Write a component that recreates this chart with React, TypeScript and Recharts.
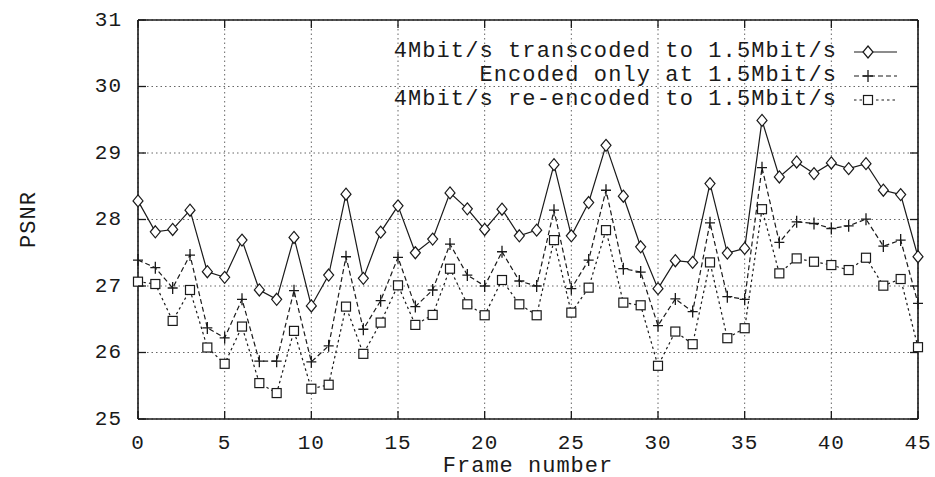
import { LineChart, Line, XAxis, YAxis, CartesianGrid, Legend } from "recharts"

const frames = Array.from({ length: 46 }, (_, i) => i)

const transcoded = [
  28.28, 27.815, 27.85, 28.14, 27.215, 27.13, 27.69, 26.94, 26.8, 27.73, 26.7, 27.165, 28.38, 27.115, 27.81, 28.205,
  27.5, 27.705, 28.4, 28.16, 27.85, 28.155, 27.755, 27.84, 28.825, 27.755, 28.255, 29.115, 28.35, 27.59, 26.96,
  27.38, 27.355, 28.54, 27.495, 27.565, 29.49, 28.64, 28.865, 28.69, 28.85, 28.765, 28.84, 28.44, 28.375, 27.44,
]
const encodedOnly = [
  27.39, 27.275, 26.97, 27.465, 26.37, 26.22, 26.8, 25.87, 25.87, 26.93, 25.86, 26.1, 27.44, 26.35, 26.78, 27.43,
  26.69, 26.94, 27.63, 27.165, 27.0, 27.515, 27.075, 27.0, 28.14, 26.96, 27.39, 28.44, 27.26, 27.21, 26.405,
  26.805, 26.615, 27.95, 26.84, 26.8, 28.78, 27.655, 27.965, 27.94, 27.865, 27.905, 28.005, 27.6, 27.69, 26.74,
]
const reencoded = [
  27.065, 27.03, 26.475, 26.94, 26.075, 25.83, 26.39, 25.54, 25.39, 26.325, 25.455, 25.515, 26.69, 25.98, 26.45, 27.01,
  26.415, 26.565, 27.26, 26.725, 26.56, 27.09, 26.725, 26.56, 27.69, 26.6, 26.975, 27.84, 26.75, 26.71, 25.8,
  26.315, 26.125, 27.355, 26.215, 26.365, 28.155, 27.19, 27.415, 27.365, 27.315, 27.24, 27.425, 27.005, 27.105, 26.08,
]

const xTicks = [0, 5, 10, 15, 20, 25, 30, 35, 40, 45]
const yTicks = [25, 26, 27, 28, 29, 30, 31]

const data = frames.map((f, i) => ({
  frame: f,
  transcoded: transcoded[i],
  encoded: encodedOnly[i],
  reencoded: reencoded[i],
}))

const FONT = "'Liberation Mono', 'Courier New', monospace"
const INK = "#1a1a1a"

type Shape = "diamond" | "plus" | "square"

function Marker({ cx, cy, shape }: { cx: number; cy: number; shape: Shape }) {
  if (shape === "diamond")
    return <path d={`M${cx},${cy - 6}L${cx + 5},${cy}L${cx},${cy + 6}L${cx - 5},${cy}Z`} fill="#fff" stroke={INK} strokeWidth={1.2} />
  if (shape === "plus")
    return <path d={`M${cx - 5},${cy}H${cx + 5}M${cx},${cy - 6}V${cy + 6}`} stroke={INK} strokeWidth={1.3} fill="none" />
  return <rect x={cx - 4.5} y={cy - 4.5} width={9} height={9} fill="#fff" stroke={INK} strokeWidth={1.2} />
}

const series = [
  { key: "transcoded", name: "4Mbit/s transcoded to 1.5Mbit/s", shape: "diamond" as Shape, dash: undefined },
  { key: "encoded", name: "Encoded only at 1.5Mbit/s", shape: "plus" as Shape, dash: "5 3" },
  { key: "reencoded", name: "4Mbit/s re-encoded to 1.5Mbit/s", shape: "square" as Shape, dash: "2.5 3" },
]

const makeDot = (shape: Shape) => (p: any) => <Marker key={`${shape}-${p.index}`} cx={p.cx} cy={p.cy} shape={shape} />

const LeftTick = (p: any) => (
  <g>
    <text x={p.x} y={p.y} textAnchor="end" dominantBaseline="central" fontFamily={FONT} fontSize={21} letterSpacing={1} fill={INK}>
      {p.payload.value}
    </text>
    <line x1={p.x + 16} x2={p.x + 24} y1={p.y} y2={p.y} stroke={INK} strokeWidth={1.3} />
  </g>
)
const BottomTick = (p: any) => (
  <g>
    <text x={p.x} y={p.y} textAnchor="middle" dominantBaseline="central" fontFamily={FONT} fontSize={21} letterSpacing={1} fill={INK}>
      {p.payload.value}
    </text>
    <line x1={p.x} x2={p.x} y1={p.y - 24} y2={p.y - 32} stroke={INK} strokeWidth={1.3} />
  </g>
)
const TopTick = (p: any) => <line x1={p.x} x2={p.x} y1={p.y} y2={p.y + 8} stroke={INK} strokeWidth={1.3} />
const RightTick = (p: any) => <line x1={p.x} x2={p.x - 8} y1={p.y} y2={p.y} stroke={INK} strokeWidth={1.3} />

function LegendBox() {
  return (
    <div style={{ fontFamily: FONT, fontSize: 22, letterSpacing: "1.1px", color: INK }}>
      {series.map((s) => (
        <div key={s.key} style={{ display: "flex", height: 24, lineHeight: "24px", alignItems: "center" }}>
          <div style={{ width: 457, textAlign: "right", whiteSpace: "pre" }}>{s.name}</div>
          <svg width={70} height={24}>
            <line x1={17} x2={60} y1={12} y2={12} stroke={INK} strokeWidth={1.2} strokeDasharray={s.dash} />
            <Marker cx={31} cy={12} shape={s.shape} />
          </svg>
        </div>
      ))}
    </div>
  )
}

export default function App() {
  return (
    <div style={{ position: "absolute", left: 0, top: 0, background: "#fff" }}>
      <LineChart width={935} height={477} data={data} margin={{ top: 0, right: 0, left: 0, bottom: 0 }}>
        <CartesianGrid stroke="#666" strokeDasharray="1.5 3" strokeWidth={1} horizontalValues={yTicks} verticalValues={xTicks} />
        <XAxis
          dataKey="frame"
          type="number"
          domain={[0, 45]}
          ticks={xTicks}
          height={58}
          tickSize={0}
          tickMargin={24}
          tick={BottomTick}
          axisLine={{ stroke: INK, strokeWidth: 1.6 }}
          label={{
            content: (p: any) => (
              <text x={p.viewBox.x + p.viewBox.width / 2} y={p.viewBox.y + 47} textAnchor="middle" dominantBaseline="central" fontFamily={FONT} fontSize={22} letterSpacing={1} fill={INK}>
                Frame number
              </text>
            ),
          }}
        />
        <XAxis
          xAxisId="top"
          orientation="top"
          dataKey="frame"
          type="number"
          domain={[0, 45]}
          allowDataOverflow
          ticks={xTicks}
          height={20}
          tickSize={0}
          tickMargin={0}
          tick={TopTick}
          axisLine={{ stroke: INK, strokeWidth: 1.6 }}
        />
        <YAxis
          type="number"
          domain={[25, 31]}
          ticks={yTicks}
          width={138}
          tickSize={0}
          tickMargin={16}
          tick={LeftTick}
          axisLine={{ stroke: INK, strokeWidth: 1.6 }}
          label={{
            content: (p: any) => {
              const x = p.viewBox.x + 29
              const y = p.viewBox.y + p.viewBox.height / 2
              return (
                <text x={x} y={y} transform={`rotate(-90 ${x} ${y})`} textAnchor="middle" dominantBaseline="central" fontFamily={FONT} fontSize={22} letterSpacing={1} fill={INK}>
                  PSNR
                </text>
              )
            },
          }}
        />
        <YAxis
          yAxisId="right"
          orientation="right"
          type="number"
          domain={[25, 31]}
          allowDataOverflow
          ticks={yTicks}
          width={17}
          tickSize={0}
          tickMargin={0}
          tick={RightTick}
          axisLine={{ stroke: INK, strokeWidth: 1.6 }}
        />
        <Legend
          layout="vertical"
          align="center"
          verticalAlign="middle"
          content={() => <LegendBox />}
          wrapperStyle={{ position: "absolute", top: 40, left: 380, width: 540 }}
        />
        {series.map((s) => (
          <Line
            key={s.key}
            dataKey={s.key}
            name={s.name}
            type="linear"
            stroke={INK}
            strokeWidth={1.2}
            strokeDasharray={s.dash}
            dot={makeDot(s.shape)}
            activeDot={false}
            isAnimationActive={false}
          />
        ))}
      </LineChart>
    </div>
  )
}
